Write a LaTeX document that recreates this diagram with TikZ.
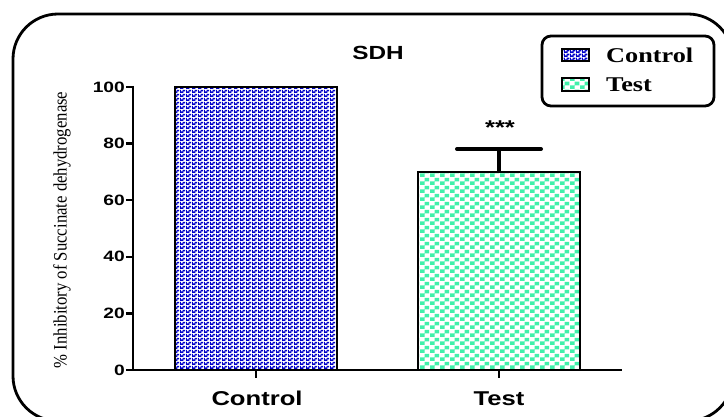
\documentclass[tikz,border=0pt]{standalone}
\usepackage{fontspec}
\setmainfont{Liberation Serif}
\newfontfamily\plotsans[FakeStretch=1.28]{Liberation Sans}
\newfontfamily\keyserif[FakeStretch=1.25]{Liberation Serif}
\newfontfamily\ylabserif[FakeStretch=0.88]{Liberation Serif}
\usetikzlibrary{patterns}

\definecolor{ctrlblue}{RGB}{0,0,200}
\definecolor{testgreen}{RGB}{64,240,170}

% fine dither for the control bar
\pgfdeclarepatternformonly{finechecks}{\pgfqpoint{0pt}{0pt}}{\pgfqpoint{6pt}{4pt}}{\pgfqpoint{6pt}{4pt}}{%
  \pgfpathrectangle{\pgfqpoint{0pt}{0pt}}{\pgfqpoint{4pt}{2pt}}%
  \pgfpathrectangle{\pgfqpoint{3pt}{2pt}}{\pgfqpoint{3pt}{2pt}}%
  \pgfpathrectangle{\pgfqpoint{0pt}{2pt}}{\pgfqpoint{1pt}{2pt}}%
  \pgfusepath{fill}}
% coarse checkerboard for the test bar
\pgfdeclarepatternformonly{bigchecks}{\pgfqpoint{0pt}{0pt}}{\pgfqpoint{10pt}{8pt}}{\pgfqpoint{10pt}{8pt}}{%
  \pgfpathrectangle{\pgfqpoint{0pt}{0pt}}{\pgfqpoint{5pt}{4pt}}%
  \pgfpathrectangle{\pgfqpoint{5pt}{4pt}}{\pgfqpoint{5pt}{4pt}}%
  \pgfusepath{fill}}

\begin{document}
\begin{tikzpicture}
      [x=1pt,y=-1pt,
        axis/.style={line width=2.4pt},
          bar/.style={draw=black,line width=2pt},
          ticklab/.style={font=\plotsans\bfseries\fontsize{15}{15}\selectfont,inner sep=0pt,anchor=east},
          catlab/.style={font=\plotsans\bfseries\fontsize{20}{20}\selectfont,inner sep=0pt,anchor=base},
          keylab/.style={font=\keyserif\bfseries\fontsize{21}{21}\selectfont,inner sep=0pt,anchor=base west}]
  \useasboundingbox (0,0) rectangle (724,417);
  % frame
  \draw[line width=2.8pt,rounded corners=45pt] (13,14) rectangle (733,421);

  \node[font=\plotsans\bfseries\fontsize{19}{19}\selectfont,inner sep=0pt,anchor=base] (title) at (378,60) {SDH};

  % bars
  \draw[bar,pattern=finechecks,pattern color=ctrlblue] (175,370) rectangle (337,87);
  \draw[bar,pattern=bigchecks,pattern color=testgreen] (418,370) rectangle (580,172);

  % error bar
  \coordinate (etop) at (499,149);
  \draw[line width=4pt] (499,172) -- (etop);
  \draw[line width=4pt,line cap=round] (457,149) -- (541,149);
  \node[font=\plotsans\bfseries\fontsize{20}{20}\selectfont,inner sep=0pt] (stars) at (500,128) {***};

  % axes
  \draw[axis] (133,86) -- (133,370) -- (622,370);
  \foreach \v in {0,20,...,100}
    \draw[axis] (133,{370-2.83*\v}) -- ++(-7,0) node[ticklab] {\v};
  \draw[axis] (256,370) -- (256,378);
  \draw[axis] (499,370) -- (499,378);
  \node[catlab] (xctrl) at (257,405) {Control};
  \node[catlab] (xtest) at (499,405) {Test};

  \node[rotate=90,font=\ylabserif\fontsize{19}{19}\selectfont,inner sep=0pt] (ylab) at (62,230) {\% Inhibitory of Succinate dehydrogenase};

  % legend
  \draw[line width=2.8pt,rounded corners=9pt] (542,36) rectangle (714,106);
  \draw[line width=1.6pt,pattern=finechecks,pattern color=ctrlblue] (562,49) rectangle (589,61);
  \draw[line width=1.6pt,pattern=bigchecks,pattern color=testgreen] (562,78) rectangle (589,91);
  \node[keylab] (kctrl) at (606,63) {Control};
  \node[keylab] (ktest) at (606,92) {Test};
\end{tikzpicture}
\end{document}
